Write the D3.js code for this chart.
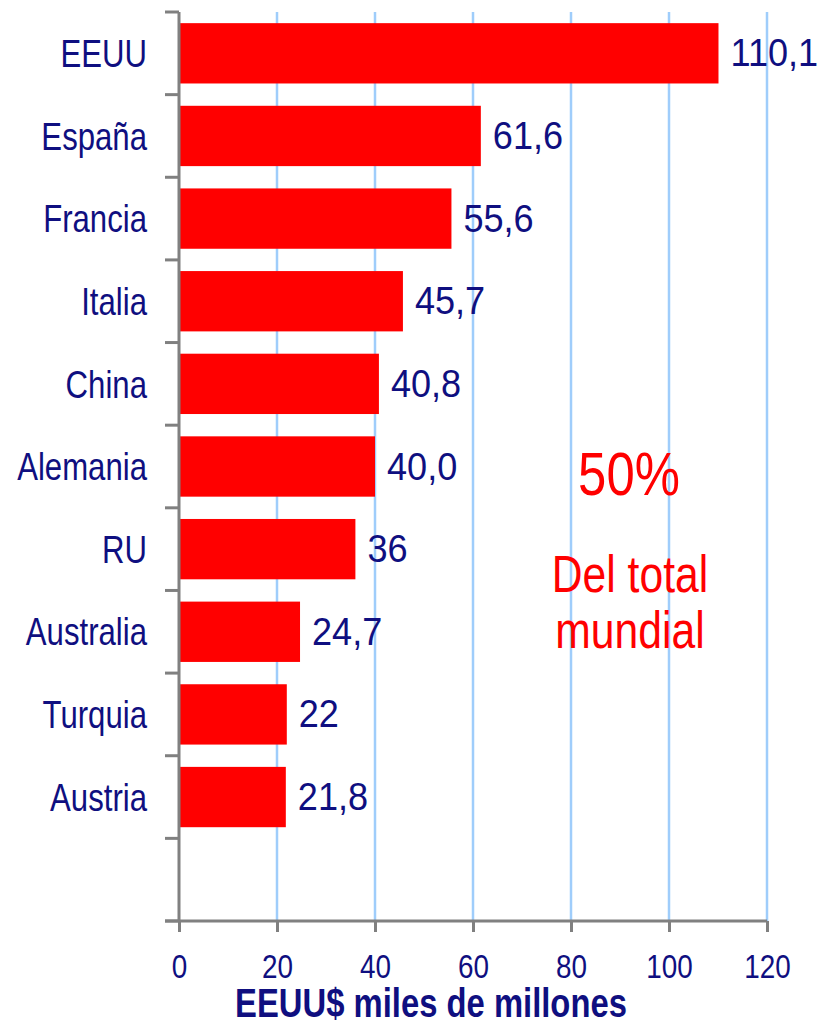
<!DOCTYPE html>
<html>
<head>
<meta charset="utf-8">
<script src="https://cdn.jsdelivr.net/npm/d3@7"></script>
<style>
  body { margin: 0; background: #fff; }
  svg { display: block; }
</style>
</head>
<body>
<figure style="margin:0"></figure>
<script>
const width = 827
const height = 1026

const categories = ['EEUU', 'España', 'Francia', 'Italia', 'China', 'Alemania', 'RU', 'Australia', 'Turquia', 'Austria']
const values = [110.1, 61.6, 55.6, 45.7, 40.8, 40.0, 36, 24.7, 22, 21.8]
const valueLabels = ['110,1', '61,6', '55,6', '45,7', '40,8', '40,0', '36', '24,7', '22', '21,8']
const xTicks = [0, 20, 40, 60, 80, 100, 120]
const axisTitle = 'EEUU$ miles de millones'
const noteLines = ['Del total', 'mundial']

const navy = '#0f0f80'
const font = '"Liberation Sans", Arial, sans-serif'
// no narrow face installed, so squeeze the regular one
const squeeze = 0.82

const svg = d3.select('figure').append('svg')
  .attr('width', width)
  .attr('height', height)
  .attr('font-family', font)

const x = d3.scaleLinear().domain([0, 120]).range([179, 767])
// one empty slot below the last country
const y = d3.scaleBand()
  .domain([...categories, ''])
  .range([12, 921])
  .paddingInner(0.27)
  .paddingOuter(0.135)

// gridlines
svg.append('g')
  .selectAll('line')
  .data(xTicks.filter(d => d > 0))
  .join('line')
  .attr('x1', d => x(d))
  .attr('x2', d => x(d))
  .attr('y1', 12)
  .attr('y2', 921)
  .attr('stroke', '#9fcdfb')
  .attr('stroke-width', 2.5)

// bars
svg.append('g')
  .selectAll('rect')
  .data(categories)
  .join('rect')
  .attr('x', x(0))
  .attr('y', d => y(d))
  .attr('width', (d, i) => x(values[i]) - x(0))
  .attr('height', y.bandwidth())
  .attr('fill', '#ff0000')

// value labels
svg.append('g')
  .selectAll('text')
  .data(categories)
  .join('text')
  .attr('transform', (d, i) => `translate(${x(values[i]) + 12},${y(d) + y.bandwidth() / 2 + 13}) scale(0.95,1)`)
  .attr('font-size', 38)
  .attr('fill', navy)
  .text((d, i) => valueLabels[i])

// y axis
const yAxis = d3.axisLeft(y)
  .tickSize(0)
  .tickFormat(d => d)
const gy = svg.append('g')
  .attr('transform', `translate(${x(0)},0)`)
  .call(yAxis)
gy.select('.domain').remove()
gy.selectAll('.tick text')
  .attr('x', 0)
  .attr('dy', '0.36em')
  .attr('transform', `translate(-32,0) scale(${squeeze},1)`)
  .attr('font-family', font)
  .attr('font-size', 38)
  .attr('fill', navy)

const boundaries = d3.range(categories.length + 2).map(i => 12 + i * y.step())
svg.append('g')
  .selectAll('line')
  .data(boundaries)
  .join('line')
  .attr('x1', 165)
  .attr('x2', x(0))
  .attr('y1', d => d)
  .attr('y2', d => d)
  .attr('stroke', '#808080')
  .attr('stroke-width', 3)

svg.append('line')
  .attr('x1', x(0))
  .attr('x2', x(0))
  .attr('y1', 12)
  .attr('y2', 921)
  .attr('stroke', '#808080')
  .attr('stroke-width', 3)

// x axis
const xAxis = d3.axisBottom(x)
  .tickValues(xTicks)
  .tickSize(11)
  .tickSizeOuter(0)
  .tickPadding(22)
const gx = svg.append('g')
  .attr('transform', 'translate(0,921)')
  .call(xAxis)
gx.select('.domain')
  .attr('d', `M165,0H${x(120)}`)
  .attr('stroke', '#808080')
  .attr('stroke-width', 3)
gx.selectAll('.tick line')
  .attr('stroke', '#808080')
  .attr('stroke-width', 3)
gx.selectAll('.tick text')
  .attr('transform', `scale(${squeeze},1)`)
  .attr('font-family', font)
  .attr('font-size', 34)
  .attr('fill', navy)

svg.append('text')
  .attr('transform', `translate(431,1017) scale(${squeeze},1)`)
  .attr('text-anchor', 'middle')
  .attr('font-weight', 'bold')
  .attr('font-size', 40)
  .attr('fill', navy)
  .text(axisTitle)

// note
svg.append('text')
  .attr('transform', `translate(629,495) scale(${squeeze},1)`)
  .attr('text-anchor', 'middle')
  .attr('font-size', 62)
  .attr('fill', '#ff0000')
  .text('50%')

svg.append('g')
  .selectAll('text')
  .data(noteLines)
  .join('text')
  .attr('transform', (d, i) => `translate(630,${592 + i * 56}) scale(${squeeze},1)`)
  .attr('text-anchor', 'middle')
  .attr('font-size', 52)
  .attr('fill', '#ff0000')
  .text(d => d)
</script>
</body>
</html>
